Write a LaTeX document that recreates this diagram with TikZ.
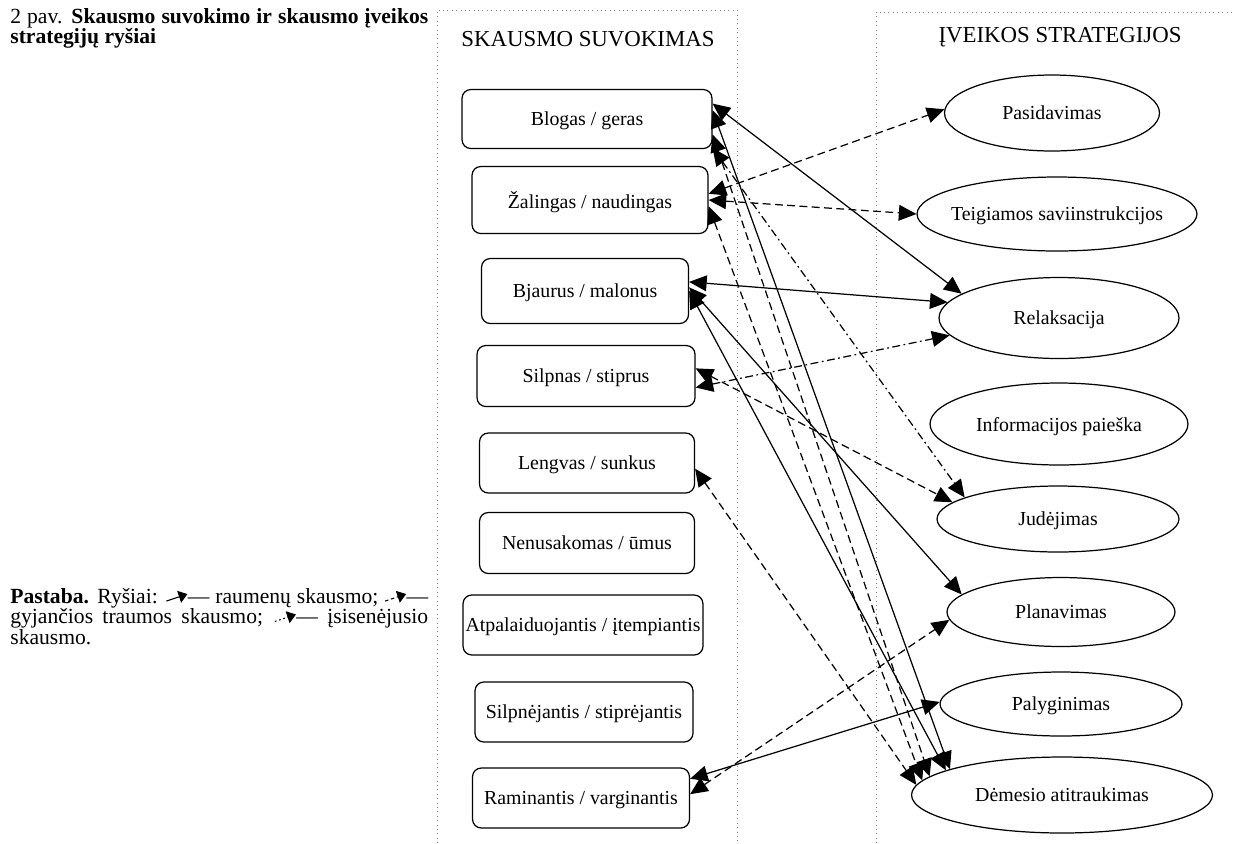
\documentclass[tikz,border=0pt]{standalone}
\usepackage{fontspec}
\setmainfont{Liberation Serif}
\usetikzlibrary{arrows.meta,shapes.geometric}

\newcommand{\boxfont}{\fontsize{11.3}{13}\selectfont}
\newcommand{\headfont}{\fontsize{13}{15}\selectfont}
\newcommand{\notefont}{\fontsize{12.3}{11.6}\selectfont}
% small link sample for the note
\newcommand{\linkglyph}[1]{\tikz[baseline=-0.5ex,x=1cm,y=1cm]\draw[#1,line width=0.6pt,-{Triangle[length=5pt,width=7pt]}] (0pt,-1.5pt) -- (12pt,2.5pt);}

\tikzset{
  frame/.style={gray,dotted,line width=0.5pt},
  percept/.style={draw,rounded corners=5pt,line width=0.7pt,minimum height=1.2cm,inner sep=1pt,text depth=0pt,font=\boxfont},
  strategy/.style={draw,ellipse,line width=0.7pt,inner sep=0pt,text depth=0pt,font=\boxfont},
  note/.style={text width=8.36cm,align=justify,inner sep=0pt,font=\notefont},
  link/.style={line width=0.7pt,{Triangle[length=10pt,width=9pt]}-{Triangle[length=10pt,width=9pt]}},
  muscle/.style={link},
  healing/.style={link,dash pattern=on 4.5pt off 2.5pt},
  chronic/.style={link,dash pattern=on 4.5pt off 2pt on 1pt off 2pt}
}

\begin{document}
\begin{tikzpicture}[x=0.02cm,y=-0.02cm]
\useasboundingbox (0,0) rectangle (1234,843);

% FRAMES
\draw[frame] (437,843) -- (437,10) -- (737,10) -- (737,843);
\draw[frame] (876,843) -- (876,12) -- (1234,12);
\node[font=\headfont,anchor=base] (perception) at (588,46) {SKAUSMO SUVOKIMAS};
\node[font=\headfont,anchor=base] (coping) at (1060,42) {ĮVEIKOS STRATEGIJOS};

% PAIN PERCEPTION
\node[percept,minimum width=5cm,minimum height=1.18cm] (blogas) at (587,119) {Blogas / geras};
\node[percept,minimum width=4.72cm,minimum height=1.34cm] (zalingas) at (590,200) {Žalingas / naudingas};
\node[percept,minimum width=4.14cm,minimum height=1.3cm] (bjaurus) at (585,291) {Bjaurus / malonus};
\node[percept,minimum width=4.36cm,minimum height=1.22cm] (silpnas) at (586,376) {Silpnas / stiprus};
\node[percept,minimum width=4.3cm] (lengvas) at (587,463) {Lengvas / sunkus};
\node[percept,minimum width=4.3cm,minimum height=1.22cm] (nenusakomas) at (587,543) {Nenusakomas / ūmus};
\node[percept,minimum width=4.8cm] (atpalaiduojantis) at (583,625) {Atpalaiduojantis / įtempiantis};
\node[percept,minimum width=4.36cm] (silpnejantis) at (584,712) {Silpnėjantis / stiprėjantis};
\node[percept,minimum width=4.34cm] (raminantis) at (581,798) {Raminantis / varginantis};

% COPING STRATEGIES
\node[strategy,minimum width=4.3cm,minimum height=1.52cm] (pasidavimas) at (1052,113) {Pasidavimas};
\node[strategy,inner xsep=-0.3cm,minimum width=5.6cm,minimum height=1.48cm] (teigiamos) at (1057,214) {Teigiamos saviinstrukcijos};
\node[strategy,minimum width=4.8cm,minimum height=1.62cm] (relaksacija) at (1059,318) {Relaksacija};
\node[strategy,minimum width=5.16cm,minimum height=1.64cm] (informacijos) at (1059,424) {Informacijos paieška};
\node[strategy,minimum width=4.84cm,minimum height=1.32cm] (judejimas) at (1058,519) {Judėjimas};
\node[strategy,minimum width=4.56cm,minimum height=1.38cm] (planavimas) at (1061,612) {Planavimas};
\node[strategy,minimum width=4.84cm,minimum height=1.28cm] (palyginimas) at (1061,704) {Palyginimas};
\node[strategy,minimum width=6.02cm,minimum height=1.52cm] (demesio) at (1062,795) {Dėmesio atitraukimas};

% LINKS
% muscle pain
\draw[muscle] (blogas.7) -- (relaksacija.166);
\draw[muscle] (blogas.4) -- (demesio.167);
\draw[muscle] (bjaurus.5) -- (relaksacija.172);
\draw[muscle] (bjaurus.2) -- (planavimas.170);
\draw[muscle] (bjaurus.0) -- (demesio.168);
\draw[muscle] (raminantis.10) -- (palyginimas.179);
% healing trauma pain
\draw[healing] (zalingas.3) -- (pasidavimas.178);
\draw[healing] (zalingas.0) -- (teigiamos.180);
\draw[healing] (blogas.-7) -- (demesio.172);
\draw[healing] (zalingas.-3) -- (demesio.174);
\draw[healing] (silpnas.4) -- (judejimas.171);
\draw[healing] (lengvas.-3) -- (demesio.176);
\draw[healing] (raminantis.2) -- (planavimas.-176);
% chronic pain
\draw[chronic] (blogas.-13) -- (judejimas.167);
\draw[chronic] (silpnas.-6) -- (relaksacija.-171);

% CAPTION AND NOTE
\node[note,anchor=north west] (caption) at (10,8) {2 pav. \textbf{Skausmo suvokimo ir skausmo įveikos\linebreak strategijų ryšiai}};
\node[note,anchor=north west] (remark) at (10,588) {\textbf{Pastaba.} Ryšiai: \linkglyph{solid}— raumenų skausmo; \linkglyph{dash pattern=on 2pt off 1.5pt}—\linebreak gyjančios traumos skausmo; \linkglyph{dash pattern=on 1pt off 1.5pt}— įsisenėjusio\linebreak skausmo.};

\end{tikzpicture}
\end{document}
